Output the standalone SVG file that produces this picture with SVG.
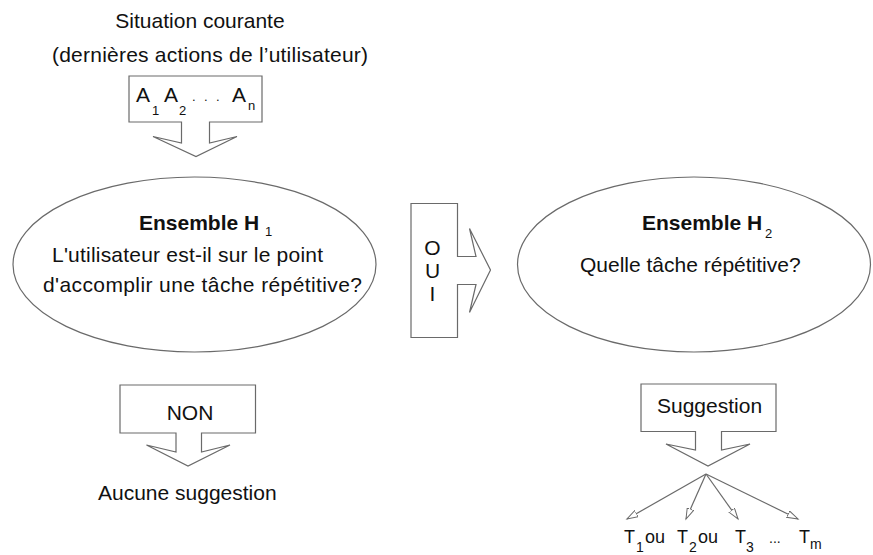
<svg xmlns="http://www.w3.org/2000/svg" width="873" height="555" viewBox="0 0 873 555">
  <style>
    text { font-family: "Liberation Sans", Arial, sans-serif; fill: #111; }
    .t { font-size: 21px; }
    .b { font-size: 21px; font-weight: bold; }
    .sub { font-size: 13px; }
    .lbl { font-size: 18px; }
    .lsub { font-size: 14px; }
    .shape { fill: #fff; stroke: #6a6a6a; stroke-width: 1.2; stroke-linejoin: miter; }
    .edge { fill: none; stroke: #6a6a6a; stroke-width: 1.2; }
  </style>
  <defs>
    <marker id="open-head" markerWidth="13" markerHeight="8" refX="11" refY="4" orient="auto" markerUnits="userSpaceOnUse">
      <path d="M0,0.5 L11,4 L0,7.5 Z" fill="#fff" stroke="#6a6a6a" stroke-width="1"/>
    </marker>
  </defs>

  <rect width="873" height="555" fill="#fff"/>

  <!-- Current situation heading -->
  <g id="situation">
    <text class="t" x="200" y="28" text-anchor="middle">Situation courante</text>
    <text class="t" x="210" y="62" text-anchor="middle" textLength="316" lengthAdjust="spacing">(dernières actions de l’utilisateur)</text>
  </g>

  <!-- Recent actions block arrow -->
  <g id="actions">
    <path class="shape" d="M129,76 H262 V122 H209.5 V143 L237,136.5 L196,156.5 L153,136.5 L181.5,143 V122 H129 Z"/>
    <text class="t" x="136" y="102">A</text>
    <text class="sub" x="152" y="115">1</text>
    <text class="t" x="164" y="102">A</text>
    <text class="sub" x="179" y="115">2</text>
    <text class="sub" x="192 204 216" y="101">...</text>
    <text class="t" x="232" y="102">A</text>
    <text class="sub" x="248" y="110">n</text>
  </g>

  <!-- Set H1 -->
  <g id="h1">
    <ellipse class="shape" cx="194.5" cy="264.5" rx="181.5" ry="87.5"/>
    <text class="b" x="139" y="230">Ensemble H</text>
    <text class="sub" x="265" y="236">1</text>
    <text class="t" x="52" y="262" textLength="271" lengthAdjust="spacing">L'utilisateur est-il sur le point</text>
    <text class="t" x="43" y="292" textLength="319" lengthAdjust="spacing">d'accomplir une tâche répétitive?</text>
  </g>

  <!-- OUI block arrow -->
  <g id="oui">
    <path class="shape" d="M411,203.5 H457.5 V256.5 H476 L469.5,228.5 L490.5,270 L469.5,312.5 L476,284.5 H457.5 V337.5 H411 Z"/>
    <text class="t" x="432.5" y="255" text-anchor="middle">O</text>
    <text class="t" x="432.5" y="278" text-anchor="middle">U</text>
    <text class="t" x="432.5" y="301" text-anchor="middle">I</text>
  </g>

  <!-- Set H2 -->
  <g id="h2">
    <ellipse class="shape" cx="694" cy="264.5" rx="176.5" ry="87.5"/>
    <text class="b" x="642" y="230">Ensemble H</text>
    <text class="sub" x="765" y="238">2</text>
    <text class="t" x="580" y="272">Quelle tâche répétitive?</text>
  </g>

  <!-- NON block arrow -->
  <g id="non">
    <path class="shape" d="M120,385 H255.5 V433 H201.5 V452 L230,445 L188,466 L146.5,445 L176,452 V433 H120 Z"/>
    <text class="t" x="190" y="420" text-anchor="middle">NON</text>
  </g>

  <g id="no-suggestion">
    <text class="t" x="98" y="500">Aucune suggestion</text>
  </g>

  <!-- Suggestion block arrow -->
  <g id="suggestion">
    <path class="shape" d="M641,384 H776 V431.5 H721.5 V450 L750,444 L708,466 L666,444 L695.5,450 V431.5 H641 Z"/>
    <text class="t" x="657" y="413">Suggestion</text>
  </g>

  <!-- Fan-out towards candidate tasks -->
  <g id="connectors">
    <line class="edge" x1="706" y1="474" x2="627" y2="519" marker-end="url(#open-head)"/>
    <line class="edge" x1="706" y1="474" x2="686" y2="519" marker-end="url(#open-head)"/>
    <line class="edge" x1="706" y1="474" x2="738" y2="519" marker-end="url(#open-head)"/>
    <line class="edge" x1="706" y1="474" x2="798" y2="519" marker-end="url(#open-head)"/>
  </g>

  <g id="tasks">
    <text class="lbl" x="624" y="543">T</text>
    <text class="lsub" x="636" y="552">1</text>
    <text class="lbl" x="645" y="543">ou</text>
    <text class="lbl" x="677" y="543">T</text>
    <text class="lsub" x="689" y="552">2</text>
    <text class="lbl" x="698" y="543">ou</text>
    <text class="lbl" x="735" y="543">T</text>
    <text class="lsub" x="746" y="552">3</text>
    <text class="lsub" x="769" y="543">...</text>
    <text class="lbl" x="799" y="543">T</text>
    <text class="lsub" x="810" y="549">m</text>
  </g>
</svg>
